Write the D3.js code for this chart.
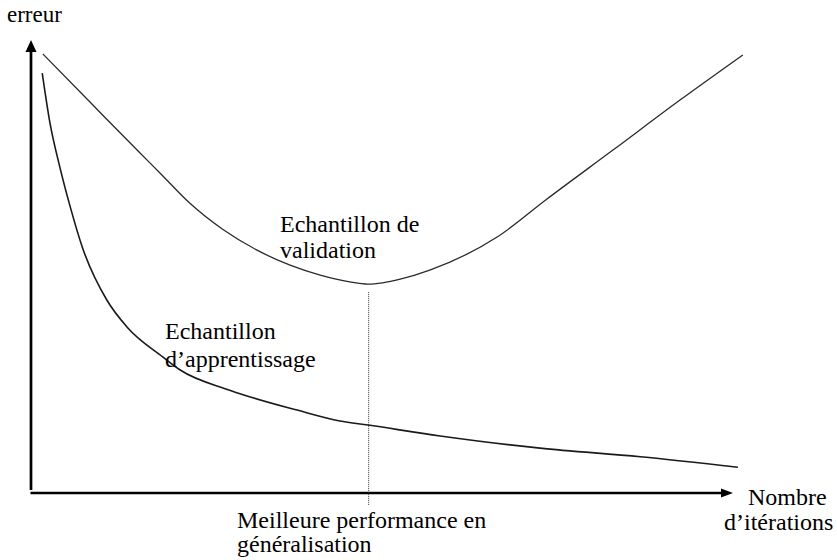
<!DOCTYPE html>
<html>
<head>
<meta charset="utf-8">
<script src="https://cdn.jsdelivr.net/npm/d3@7"></script>
<style>
  html, body { margin: 0; padding: 0; background: #fff; }
  svg { display: block; }
</style>
</head>
<body>
<svg id="chart" width="837" height="560"></svg>
<script>
// Iterations (x, 0..100) and error (y, 0..100)
const validationX = [1.7, 8.4, 15.5, 18.4, 22.6, 27.4, 32.2, 36.9, 41.2, 45.4, 48.0, 50.1, 52.6, 56.8, 66.4, 73.5, 82.9, 92.5, 101.4];
const validationY = [96.9, 86.3, 75.1, 70.6, 64.0, 58.1, 53.6, 50.3, 48.1, 46.6, 46.1, 46.4, 47.2, 49.2, 56.5, 64.9, 75.7, 86.8, 96.7];

const trainingX = [1.6, 2.7, 4.1, 5.6, 7.3, 10.8, 13.7, 18.8, 21.2, 28.3, 37.9, 44.0, 48.0, 58.3, 72.5, 86.8, 100.7];
const trainingY = [92.7, 81.7, 72.0, 63.1, 54.3, 42.6, 36.6, 30.0, 27.2, 22.7, 18.3, 15.9, 15.0, 12.6, 9.9, 8.0, 5.7];

const bestIteration = 48.1;

const axisTitles = { y: "erreur", x: ["Nombre", "d\u2019itérations"] };
const curveLabels = {
  validation: ["Echantillon de", "validation"],
  training: ["Echantillon", "d\u2019apprentissage"],
  best: ["Meilleure performance en", "généralisation"]
};

const FONT = "'Liberation Serif', Tinos, 'Times New Roman', Times, 'DejaVu Serif', serif";

const svg = d3.select("#chart").attr("font-family", FONT);
const x = d3.scaleLinear().domain([0, 100]).range([31, 733]);
const y = d3.scaleLinear().domain([0, 100]).range([493, 40]);

const line = d3.line().x(d => x(d[0])).y(d => y(d[1])).curve(d3.curveMonotoneX);

const validation = validationX.map((v, i) => [v, validationY[i]]);
const training = trainingX.map((v, i) => [v, trainingY[i]]);

// Axes
svg.append("line")
  .attr("x1", x(0)).attr("x2", x(0))
  .attr("y1", y(0) - 3).attr("y2", y(100) + 11)
  .attr("stroke", "#000").attr("stroke-width", 2.7);
svg.append("path")
  .attr("d", `M${x(0)},${y(100)} L${x(0) - 5.5},${y(100) + 12} L${x(0) + 5.5},${y(100) + 12} Z`)
  .attr("fill", "#000");

svg.append("line")
  .attr("x1", x(0) - 0.5).attr("x2", x(100) - 11)
  .attr("y1", y(0)).attr("y2", y(0))
  .attr("stroke", "#000").attr("stroke-width", 2.7);
svg.append("path")
  .attr("d", `M${x(100)},${y(0)} L${x(100) - 12},${y(0) - 4.5} L${x(100) - 12},${y(0) + 4.5} Z`)
  .attr("fill", "#000");

// Dotted vertical line at best generalisation
const minVal = d3.min(validationY);
svg.append("line")
  .attr("x1", x(bestIteration)).attr("x2", x(bestIteration))
  .attr("y1", y(minVal) + 8).attr("y2", y(0) + 12)
  .attr("stroke", "#333").attr("stroke-width", 1)
  .attr("stroke-dasharray", "1,1");

// Curves
svg.append("path").datum(validation)
  .attr("d", line).attr("fill", "none")
  .attr("stroke", "#2a2a2a").attr("stroke-width", 1.3);
svg.append("path").datum(training)
  .attr("d", line).attr("fill", "none")
  .attr("stroke", "#1a1a1a").attr("stroke-width", 1.6);

// Texts
function lines(xp, yp, arr, lh, size) {
  const t = svg.append("text").attr("font-size", size).attr("font-family", FONT).attr("fill", "#000");
  arr.forEach((s, i) => t.append("tspan").attr("x", xp).attr("y", yp + i * lh).text(s));
}
lines(7, 22, [axisTitles.y], 0, 23);
lines(280, 232, curveLabels.validation, 26, 24);
lines(165, 339, curveLabels.training, 28, 24);
lines(237, 528, curveLabels.best, 24, 24);
lines(748, 505, [axisTitles.x[0]], 0, 24);
lines(724, 530, [axisTitles.x[1]], 0, 24);
</script>
</body>
</html>
